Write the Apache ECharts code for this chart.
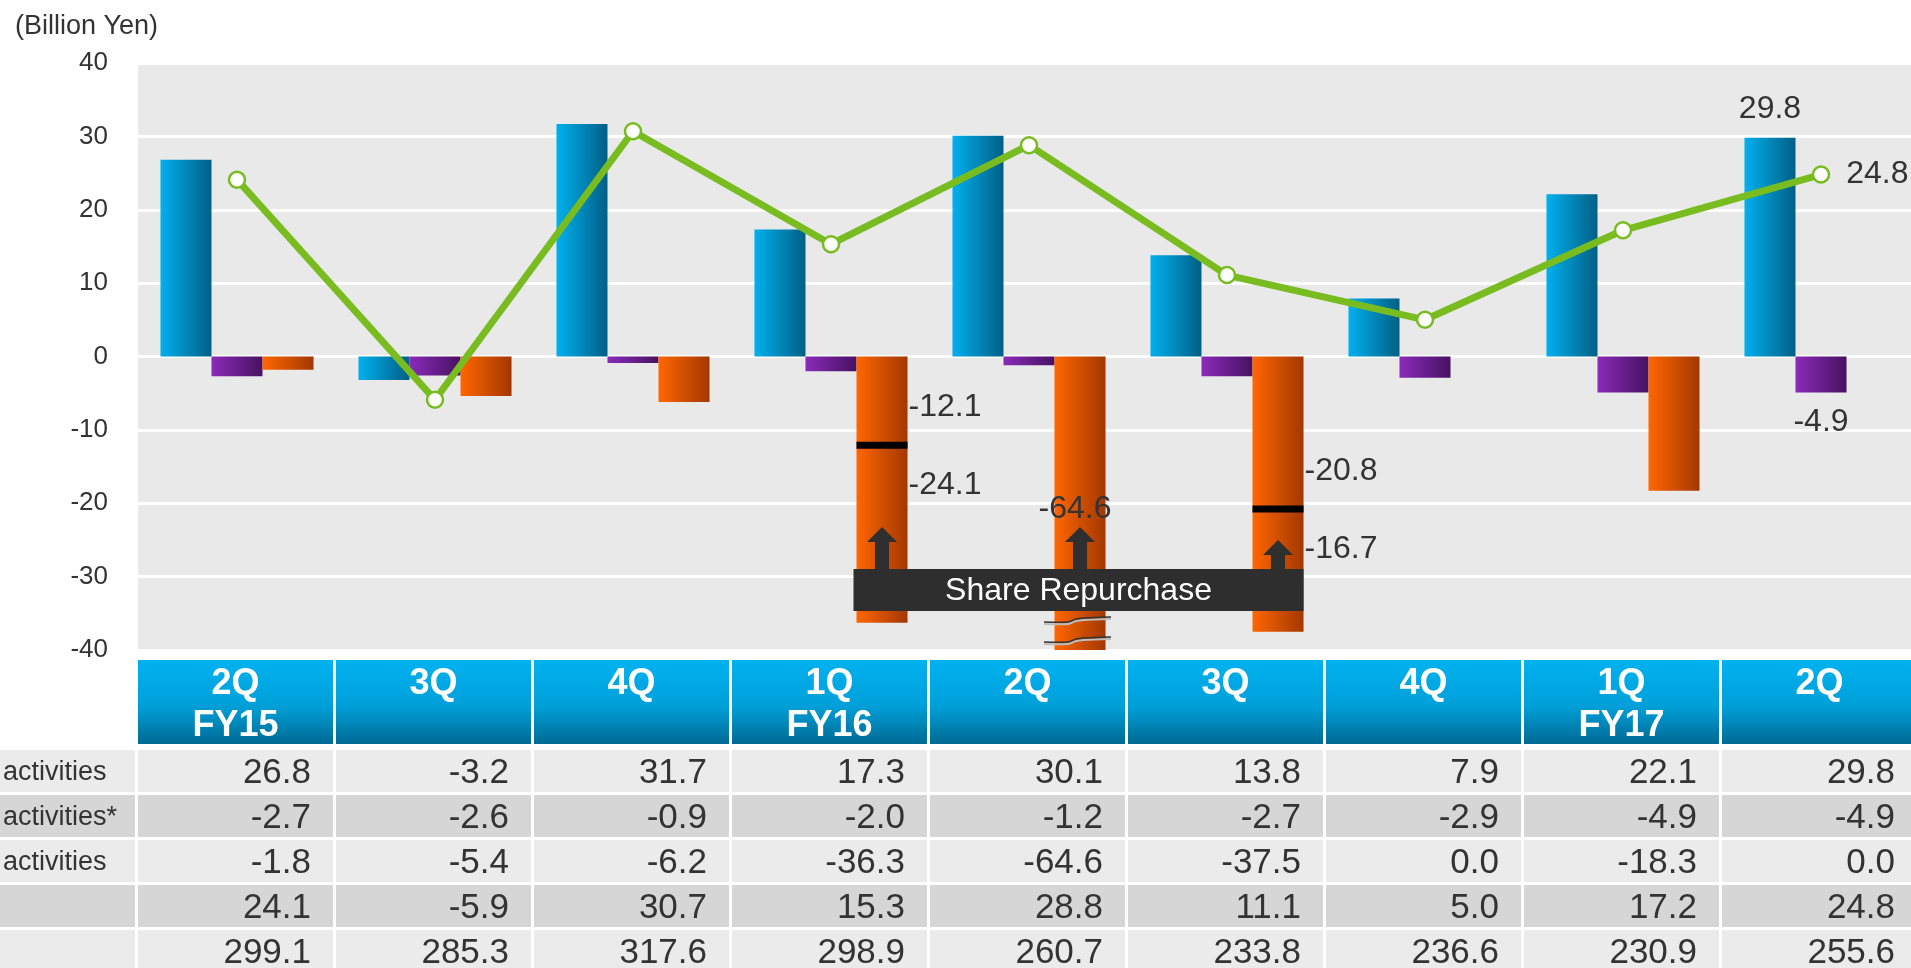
<!DOCTYPE html>
<html>
<head>
<meta charset="utf-8">
<title>Cash Flows</title>
<script src="https://cdn.jsdelivr.net/npm/echarts@6/dist/echarts.min.js"></script>
<style>
  html, body { margin: 0; padding: 0; background: #fff; }
  #chart { width: 1911px; height: 968px; }
</style>
</head>
<body>
<div id="chart"></div>
<script>
// 季度
const quarters = ['2Q\nFY15', '3Q', '4Q', '1Q\nFY16', '2Q', '3Q', '4Q', '1Q\nFY17', '2Q'];
// 各行数据
const operatingCF = [26.8, -3.2, 31.7, 17.3, 30.1, 13.8, 7.9, 22.1, 29.8];
const investingCF = [-2.7, -2.6, -0.9, -2.0, -1.2, -2.7, -2.9, -4.9, -4.9];
const financingCF = [-1.8, -5.4, -6.2, -36.3, -64.6, -37.5, 0.0, -18.3, 0.0];
const freeCF = [24.1, -5.9, 30.7, 15.3, 28.8, 11.1, 5.0, 17.2, 24.8];
const cashBalance = [299.1, 285.3, 317.6, 298.9, 260.7, 233.8, 236.6, 230.9, 255.6];
const rowLabels = ['activities', 'activities*', 'activities', '', ''];
const tableRows = [operatingCF, investingCF, financingCF, freeCF, cashBalance];
// 自社株買い
const repurchaseQuarter = [3, 4, 5];
const repurchaseFirst = [-12.1, null, -20.8];
const repurchaseSecond = [-24.1, null, -16.7];

const FONT = '"Liberation Sans", Arial, sans-serif';
const TXT = '#333333';
const BAR_GAP = 0.227;
const Y_MIN = -40, Y_MAX = 40;

function hGrad(c1, c2) {
  return new echarts.graphic.LinearGradient(0, 0, 1, 0, [
    { offset: 0, color: c1 }, { offset: 1, color: c2 }
  ]);
}

// 只给最后一个点加标签
function lastLabeled(arr, pos, dist) {
  return arr.map(function(v, i) {
    if (i !== arr.length - 1) return v;
    return { value: v, label: { show: true, position: pos, distance: dist, fontSize: 32, color: TXT, fontFamily: FONT,
      formatter: function(p) { return p.value.toFixed(1); } } };
  });
}

// 表格
function renderHeader(params, api) {
  const c = api.value(0);
  const p = api.coord([c, 0]);
  const sz = api.size([1, 1]);
  const left = p[0] - sz[0] / 2, top = p[1] - sz[1] / 2;
  return {
    type: 'group',
    children: [{
      type: 'rect',
      shape: { x: left, y: top, width: sz[0] - 3, height: sz[1] * 2 - 6 },
      style: { fill: new echarts.graphic.LinearGradient(0, 0, 0, 1, [
        { offset: 0, color: '#00b2f0' }, { offset: 0.55, color: '#009fd8' }, { offset: 1, color: '#006a94' }
      ]) }
    }, {
      type: 'text',
      style: { text: quarters[c], x: left + (sz[0] - 3) / 2, y: top + 3, align: 'center', verticalAlign: 'top',
        lineHeight: 42, fontSize: 36, fontWeight: 'bold', fill: '#ffffff', fontFamily: FONT }
    }]
  };
}

function renderCell(params, api) {
  const c = api.value(0), slot = api.value(1), r = api.value(2);
  const p = api.coord([c, slot]);
  const sz = api.size([1, 1]);
  const left = p[0] - sz[0] / 2, top = p[1] - sz[1] / 2;
  const fill = r % 2 === 0 ? '#ebebeb' : '#d6d6d6';
  const h = sz[1] - 3;
  const children = [{
    type: 'rect', shape: { x: left, y: top, width: sz[0] - 3, height: h }, style: { fill: fill }
  }, {
    type: 'text',
    style: { text: tableRows[r][c].toFixed(1), x: left + sz[0] - 25, y: top + h / 2 + 2, align: 'right',
      verticalAlign: 'middle', fontSize: 35, fill: TXT, fontFamily: FONT }
  }];
  if (c === 0) {
    children.push({ type: 'rect', shape: { x: 0, y: top, width: left - 3, height: h }, style: { fill: fill } });
    children.push({ type: 'text', style: { text: rowLabels[r], x: 3, y: top + h / 2 + 2, align: 'left',
      verticalAlign: 'middle', fontSize: 27, fill: TXT, fontFamily: FONT } });
  }
  return { type: 'group', children: children };
}

// 自社株买回标注
function renderRepurchase(params, api) {
  const q = api.value(0), i = api.value(2);
  const band = api.size([1, 0])[0];
  const barW = band * (1 - BAR_GAP) / 3;
  const center = api.coord([q, 0]);
  const cx = center[0] + barW;
  const bottomY = api.coord([q, Y_MIN])[1];
  const boxBottom = bottomY - 39, boxTop = boxBottom - 42;
  const children = [];
  let tipY = boxTop - 42;

  if (repurchaseFirst[i] !== null) {
    const markY = api.coord([q, repurchaseFirst[i]])[1];
    tipY = Math.max(tipY, markY + 31);
    children.push({ type: 'rect', shape: { x: cx - barW / 2, y: markY - 3.5, width: barW, height: 7 }, style: { fill: '#000' } });
    children.push({ type: 'text', style: { text: repurchaseFirst[i].toFixed(1), x: cx + barW / 2 + 1, y: markY - 38,
      align: 'left', verticalAlign: 'middle', fontSize: 32, fill: TXT, fontFamily: FONT } });
    children.push({ type: 'text', style: { text: repurchaseSecond[i].toFixed(1), x: cx + barW / 2 + 1, y: markY + 40,
      align: 'left', verticalAlign: 'middle', fontSize: 32, fill: TXT, fontFamily: FONT } });
  } else {
    children.push({ type: 'text', z2: 3, style: { text: api.value(1).toFixed(1), x: cx - 5, y: boxTop - 60,
      align: 'center', verticalAlign: 'middle', fontSize: 32, fill: TXT, fontFamily: FONT } });
  }

  // 截断标记
  if (api.value(1) < Y_MIN) {
    const wave = function(y) { return [[cx - 36, y + 4], [cx - 12, y + 4], [cx - 4, y + 1], [cx + 4, y], [cx + 31, y - 1]]; };
    [bottomY - 32, bottomY - 12].forEach(function(y) {
      children.push({ type: 'polyline', shape: { points: wave(y + 2), smooth: 0.3 }, style: { stroke: '#bdbdbd', lineWidth: 2, fill: null } });
      children.push({ type: 'polyline', shape: { points: wave(y), smooth: 0.3 }, style: { stroke: '#333', lineWidth: 1.5, fill: null } });
    });
  }

  // 箭头
  children.push({ type: 'polygon', z2: 2, shape: { points: [
    [cx, tipY], [cx + 15, tipY + 15], [cx + 7, tipY + 15], [cx + 7, boxTop + 1],
    [cx - 7, boxTop + 1], [cx - 7, tipY + 15], [cx - 15, tipY + 15]
  ] }, style: { fill: '#2f2f2f' } });

  if (i === 0) {
    const last = repurchaseQuarter[repurchaseQuarter.length - 1];
    const left = center[0] + barW / 2 - 3;
    const right = api.coord([last, 0])[0] + barW * 1.5;
    children.push({ type: 'rect', z2: 10, shape: { x: left, y: boxTop, width: right - left, height: boxBottom - boxTop },
      style: { fill: '#2e2e2e' } });
    children.push({ type: 'text', z2: 11, style: { text: 'Share Repurchase', x: (left + right) / 2, y: (boxTop + boxBottom) / 2 + 1,
      align: 'center', verticalAlign: 'middle', fontSize: 32, fill: '#ffffff', fontFamily: FONT } });
  }
  return { type: 'group', children: children };
}

const headerData = quarters.map(function(q, c) { return [c, 0]; });
const cellData = [];
tableRows.forEach(function(row, r) {
  row.forEach(function(v, c) { cellData.push([c, r + 2, r]); });
});
const repurchaseData = repurchaseQuarter.map(function(q, i) { return [q, financingCF[q], i]; });

const chart = echarts.init(document.getElementById('chart'));
chart.setOption({
  animation: false,
  backgroundColor: '#ffffff',
  textStyle: { fontFamily: FONT },
  title: {
    text: '(Billion Yen)', left: 15, top: 13, padding: 0,
    textStyle: { fontSize: 27, fontWeight: 'normal', color: TXT, fontFamily: FONT }
  },
  grid: [
    { left: 138, top: 63, width: 1782, height: 587, show: true, backgroundColor: '#e9e9e9', borderWidth: 0,
      outerBoundsMode: 'none', containLabel: false },
    { left: 138, top: 660, width: 1782, height: 315, outerBoundsMode: 'none', containLabel: false }
  ],
  xAxis: [
    { type: 'category', gridIndex: 0, data: quarters, show: false },
    { type: 'category', gridIndex: 1, data: quarters, show: false }
  ],
  yAxis: [
    {
      type: 'value', gridIndex: 0, min: Y_MIN, max: Y_MAX, interval: 10,
      axisLine: { show: false }, axisTick: { show: false },
      axisLabel: { fontSize: 26, color: TXT, margin: 30, fontFamily: FONT },
      splitLine: { lineStyle: { color: '#ffffff', width: 3 } }
    },
    { type: 'category', gridIndex: 1, inverse: true, data: ['h0', 'h1', 'r0', 'r1', 'r2', 'r3', 'r4'], show: false }
  ],
  series: [
    {
      type: 'bar', name: 'operating', data: lastLabeled(operatingCF, 'top', 13),
      barGap: '0%', barCategoryGap: (BAR_GAP * 100) + '%',
      itemStyle: { color: hGrad('#00b0ee', '#005f85') }
    },
    {
      type: 'bar', name: 'investing', data: lastLabeled(investingCF, 'bottom', 14),
      barGap: '0%', barCategoryGap: (BAR_GAP * 100) + '%',
      itemStyle: { color: hGrad('#8a2bb9', '#471262') }
    },
    {
      type: 'bar', name: 'financing', data: financingCF,
      barGap: '0%', barCategoryGap: (BAR_GAP * 100) + '%',
      itemStyle: { color: hGrad('#ff6600', '#a33800') }
    },
    {
      type: 'line', name: 'free', data: lastLabeled(freeCF, 'right', 16), z: 4,
      symbol: 'circle', symbolSize: 16, showAllSymbol: true,
      lineStyle: { color: '#78bc20', width: 7 },
      itemStyle: { color: '#ffffff', borderColor: '#78bc20', borderWidth: 2.5 }
    },
    {
      type: 'custom', name: 'repurchase', data: repurchaseData, z: 6,
      xAxisIndex: 0, yAxisIndex: 0, renderItem: renderRepurchase, clip: false
    },
    {
      type: 'custom', name: 'header', data: headerData,
      xAxisIndex: 1, yAxisIndex: 1, renderItem: renderHeader
    },
    {
      type: 'custom', name: 'cells', data: cellData,
      xAxisIndex: 1, yAxisIndex: 1, renderItem: renderCell
    }
  ]
});
</script>
</body>
</html>
